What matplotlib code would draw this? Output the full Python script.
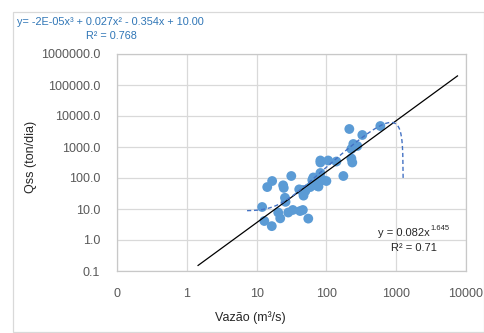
import numpy as np
import matplotlib
matplotlib.use("Agg")
import matplotlib.pyplot as plt
from matplotlib.ticker import FuncFormatter, FixedLocator
from matplotlib.patches import Rectangle

# Data
vazao = [12.0, 12.9, 14.2, 16.7, 16.5, 20.4, 21.8, 24.0, 24.5, 25.5, 26.0, 28.4,
         31.4, 33.0, 40.8, 46.0, 47.0, 47.0, 50.0, 46.0, 55.0, 58.7, 62.8, 72.0,
         77.0, 74.0, 77.0, 82.0, 90.0, 100.0, 82.0, 82.0, 106.0, 139.0, 175.0,
         213.0, 228.0, 235.0, 243.0, 277.0, 228.0, 327.0, 593.0, 65.0, 42.0]
qss = [11.6, 4.1, 51.0, 80.0, 2.8, 7.7, 5.0, 58.0, 48.0, 23.0, 17.0, 7.7,
       116.0, 9.3, 43.0, 9.3, 27.0, 33.0, 38.0, 41.0, 4.9, 51.0, 86.0, 57.0,
       53.0, 74.0, 104.0, 145.0, 86.0, 80.0, 367.0, 316.0, 367.0, 340.0, 116.0,
       3810.0, 426.0, 316.0, 1250.0, 1077.0, 862.0, 2440.0, 4755.0, 104.0, 8.6]

# Trendlines (as displayed)
pow_a, pow_b = 0.082, 1.645
pow_range = (1.45, 7550.0)
poly_c = [-2.12e-5, 0.027, -0.354, 10.0]
poly_range = (7.3, 1258.0)

xticks = [0.1, 1, 10, 100, 1000, 10000]
yticks = [0.1, 1, 10, 100, 1000, 10000, 100000, 1000000]

fig = plt.figure(figsize=(4.85, 3.33), dpi=100)
plt.rcParams['font.family'] = ['Liberation Sans', 'DejaVu Sans']

W, H = 485, 333
ax = fig.add_axes([117 / W, 1 - 271 / H, (466 - 117) / W, (271 - 54) / H])
ax.set_xscale('log')
ax.set_yscale('log')
ax.set_xlim(0.1, 10000)
ax.set_ylim(0.1, 1000000)

ax.grid(True, which='major', color='#d9d9d9', linewidth=0.9)
ax.set_axisbelow(True)
for s in ax.spines.values():
    s.set_color('#c8c8c8')
    s.set_linewidth(0.9)

ax.xaxis.set_major_locator(FixedLocator(xticks))
ax.yaxis.set_major_locator(FixedLocator(yticks))
ax.xaxis.set_minor_locator(FixedLocator([]))
ax.yaxis.set_minor_locator(FixedLocator([]))
ax.xaxis.set_major_formatter(FuncFormatter(lambda v, p: '%.0f' % v))
ax.yaxis.set_major_formatter(FuncFormatter(lambda v, p: '%.1f' % v))
ax.tick_params(length=0, labelsize=9, colors='#595959', pad=12)
ax.tick_params(axis='y', pad=12)

ax.scatter(vazao, qss, s=50, color='#5B9BD5', edgecolors='none', zorder=3)

xp = np.logspace(np.log10(pow_range[0]), np.log10(pow_range[1]), 200)
ax.plot(xp, pow_a * xp ** pow_b, color='black', linewidth=0.9, zorder=4)

xq = np.logspace(np.log10(poly_range[0]), np.log10(poly_range[1]), 400)
yq = np.polyval(poly_c, xq)
yq = np.where(yq > 0, yq, np.nan)
ax.plot(xq, yq, color='#4472C4', linewidth=1.0, linestyle=(0, (3, 2)), zorder=4)

fig.text(250 / W, 1 - 318 / H, 'Vazão (m³/s)', fontsize=9, color='#262626',
         ha='center', va='center')
fig.text(31 / W, 1 - 157 / H, 'Qss (ton/dia)', fontsize=9, color='#262626',
         ha='center', va='center', rotation=90)

fig.text(430 / W, 1 - 233 / H, 'y = 0.082x', fontsize=8, color='#262626',
         ha='right', va='center')
fig.text(430.5 / W, 1 - 229 / H, '1.645', fontsize=5.5, color='#262626',
         ha='left', va='center')
fig.text(414 / W, 1 - 248 / H, 'R² = 0.71', fontsize=8, color='#262626',
         ha='center', va='center')
fig.text(17 / W, 1 - 22 / H, 'y= -2E-05x³ + 0.027x² - 0.354x + 10.00', fontsize=7.8,
         color='#2E75B6', ha='left', va='center')
fig.text(111 / W, 1 - 36 / H, 'R² = 0.768', fontsize=7.8, color='#2E75B6',
         ha='center', va='center')

fig.patches.append(Rectangle((12.7 / W, 1 - 331.7 / H), (484.5 - 12.7) / W, (331.7 - 12) / H,
                             transform=fig.transFigure, fill=False, edgecolor='#d9d9d9',
                             linewidth=0.9))

fig.savefig('out.png', dpi=100)
